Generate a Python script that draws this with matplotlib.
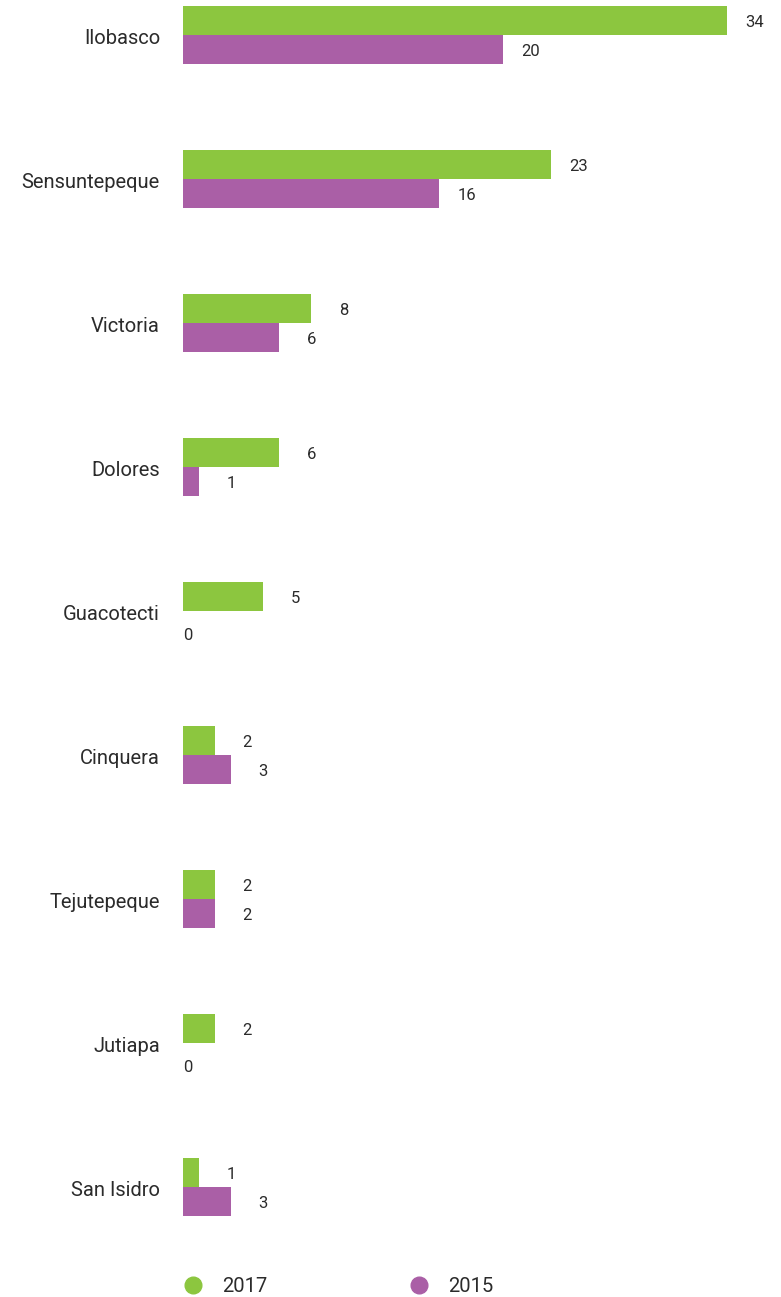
import matplotlib
import matplotlib.pyplot as plt
import numpy as np
from matplotlib.lines import Line2D

plt.rcParams['font.family'] = ['Roboto', 'DejaVu Sans']

categories = ['Ilobasco', 'Sensuntepeque', 'Victoria', 'Dolores', 'Guacotecti',
              'Cinquera', 'Tejutepeque', 'Jutiapa', 'San Isidro']
values_2017 = [34, 23, 8, 6, 5, 2, 2, 2, 1]
values_2015 = [20, 16, 6, 1, 0, 3, 2, 0, 3]

green = '#8cc63f'
purple = '#aa5fa6'
text_color = '#2b2b2b'

W, H = 781, 1297
dpi = 100
fig = plt.figure(figsize=(W / dpi, H / dpi), dpi=dpi)

# axes starts at the bar baseline, 16 px per unit, 144 px per group
left_px = 183
ax = fig.add_axes([left_px / W, 0, 1 - left_px / W, 1])
ax.set_xlim(0, (W - left_px) / 16)
ax.set_ylim((H - 35) / 144, -35 / 144)
ax.axis('off')

y = np.arange(len(categories))
bh = 29 / 144
ax.barh(y - bh / 2, values_2017, height=bh, color=green, linewidth=0)
ax.barh(y + bh / 2, values_2015, height=bh, color=purple, linewidth=0)

def label(v, yy):
    if v == 0:
        ax.annotate('0', (0, yy), xytext=(0, -10), textcoords='offset pixels',
                    ha='left', va='center', fontsize=12, color=text_color)
    else:
        ax.annotate(str(v), (v, yy), xytext=(37, -2), textcoords='offset pixels',
                    ha='right', va='center', fontsize=12, color=text_color)

for i in range(len(categories)):
    label(values_2017[i], y[i] - bh / 2)
    label(values_2015[i], y[i] + bh / 2)
    ax.annotate(categories[i], (0, y[i]), xytext=(-23, -3), textcoords='offset pixels',
                ha='right', va='center', fontsize=14.5, color=text_color,
                annotation_clip=False)

# legend at the bottom
for cx, tx, col, name in [(193, 222, green, '2017'), (419, 448, purple, '2015')]:
    fig.add_artist(Line2D([cx / W], [1 - 1285 / H], marker='o', markersize=12,
                          color=col, linestyle='none', transform=fig.transFigure))
    fig.text(tx / W, 1 - 1286 / H, name, ha='left', va='center',
             fontsize=14.5, color=text_color)

fig.savefig('out.png', dpi=dpi)
